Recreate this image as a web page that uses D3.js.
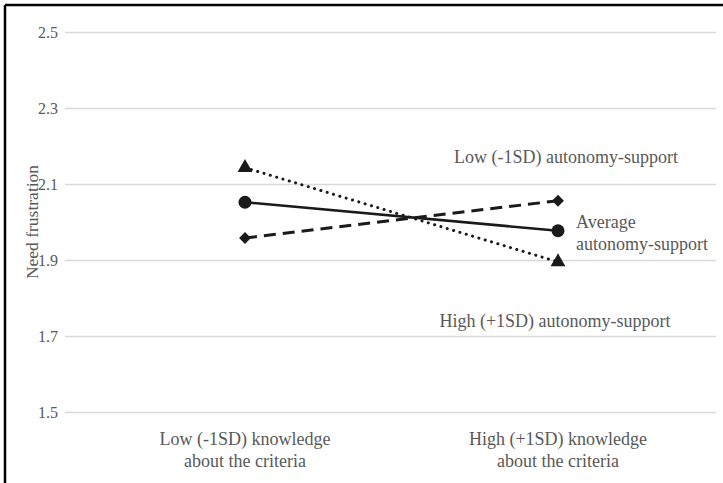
<!DOCTYPE html>
<html><head><meta charset="utf-8">
<script src="https://cdn.jsdelivr.net/npm/d3@7"></script>
<style>body{margin:0;background:#fff}svg{display:block}</style>
</head><body>
<svg id="c" width="723" height="483"></svg>
<script>
const categories = ["Low (-1SD) knowledge|about the criteria", "High (+1SD) knowledge|about the criteria"];
const seriesNames = ["Low (-1SD) autonomy-support", "Average autonomy-support", "High (+1SD) autonomy-support"];
const lowSupport = [2.143, 1.895];
const avgSupport = [2.052, 1.977];
const highSupport = [1.958, 2.056];
const yTicks = [1.5, 1.7, 1.9, 2.1, 2.3, 2.5];

const FONT = "'Liberation Serif', 'Times New Roman', 'DejaVu Serif', serif";
const svg = d3.select("#c");
const W = 723, H = 483;
const plotL = 65, plotR = 716, plotT = 32, plotB = 412;
const x = d3.scalePoint().domain(categories).range([245, 558]);
const y = d3.scaleLinear().domain([1.5, 2.5]).range([plotB, plotT]);

// frame (top and left edges)
svg.append("line").attr("x1",5).attr("x2",W).attr("y1",5).attr("y2",5).attr("stroke","#000").attr("stroke-width",2.5);
svg.append("line").attr("x1",5).attr("x2",5).attr("y1",5).attr("y2",H).attr("stroke","#000").attr("stroke-width",2.5);

// grid
const gAxis = svg.append("g").attr("transform",`translate(${plotL},0)`)
  .call(d3.axisLeft(y).tickValues(yTicks).tickFormat(d3.format(".1f")).tickSize(-(plotR-plotL)).tickPadding(7));
gAxis.select(".domain").remove();
gAxis.attr("font-family", FONT);
gAxis.selectAll(".tick line").attr("stroke","#d9d9d9").attr("stroke-width",1.3);
gAxis.selectAll(".tick text").attr("font-size",16).attr("fill","#595959").style("font-family",FONT);

function txt(sel, fs){ return sel.style("font-family",FONT).attr("fill","#595959").attr("font-size",fs||18); }

// y title
txt(svg.append("text"),17.5).attr("transform",`translate(38,${(plotT+plotB)/2}) rotate(-90)`)
  .attr("text-anchor","middle").text("Need frustration");

// x labels
categories.forEach(c => {
  const parts = c.split("|");
  const t = txt(svg.append("text")).attr("text-anchor","middle");
  parts.forEach((p,i)=> t.append("tspan").attr("x",x(c)).attr("y",445+i*22).text(p));
});

const line = d3.line().x((d,i)=>x(categories[i])).y(d=>y(d));
// series
svg.append("path").datum(lowSupport).attr("d",line).attr("fill","none").attr("stroke","#1a1a1a")
  .attr("stroke-width",3).attr("stroke-dasharray","0.1 6.5").attr("stroke-linecap","round");
svg.append("path").datum(highSupport).attr("d",line).attr("fill","none").attr("stroke","#1a1a1a")
  .attr("stroke-width",3).attr("stroke-dasharray","12 7");
svg.append("path").datum(avgSupport).attr("d",line).attr("fill","none").attr("stroke","#1a1a1a")
  .attr("stroke-width",2.6);

const sym = (type,size)=>d3.symbol().type(type).size(size)();
lowSupport.forEach((v,i)=>svg.append("path").attr("d",sym(d3.symbolTriangle,95))
  .attr("transform",`translate(${x(categories[i])},${y(v)})`).attr("fill","#1a1a1a"));
highSupport.forEach((v,i)=>svg.append("path").attr("d",sym(d3.symbolSquare,70))
  .attr("transform",`translate(${x(categories[i])},${y(v)}) rotate(45)`).attr("fill","#1a1a1a"));
avgSupport.forEach((v,i)=>svg.append("circle").attr("cx",x(categories[i])).attr("cy",y(v)).attr("r",6.5).attr("fill","#1a1a1a"));

// series labels
txt(svg.append("text")).attr("x",566).attr("y",163).attr("text-anchor","middle").text(seriesNames[0]);
const avgT = txt(svg.append("text"));
avgT.append("tspan").attr("x",576).attr("y",228).text("Average");
avgT.append("tspan").attr("x",576).attr("y",250).text("autonomy-support");
txt(svg.append("text")).attr("x",555).attr("y",327).attr("text-anchor","middle").text(seriesNames[2]);
</script>
</body></html>
